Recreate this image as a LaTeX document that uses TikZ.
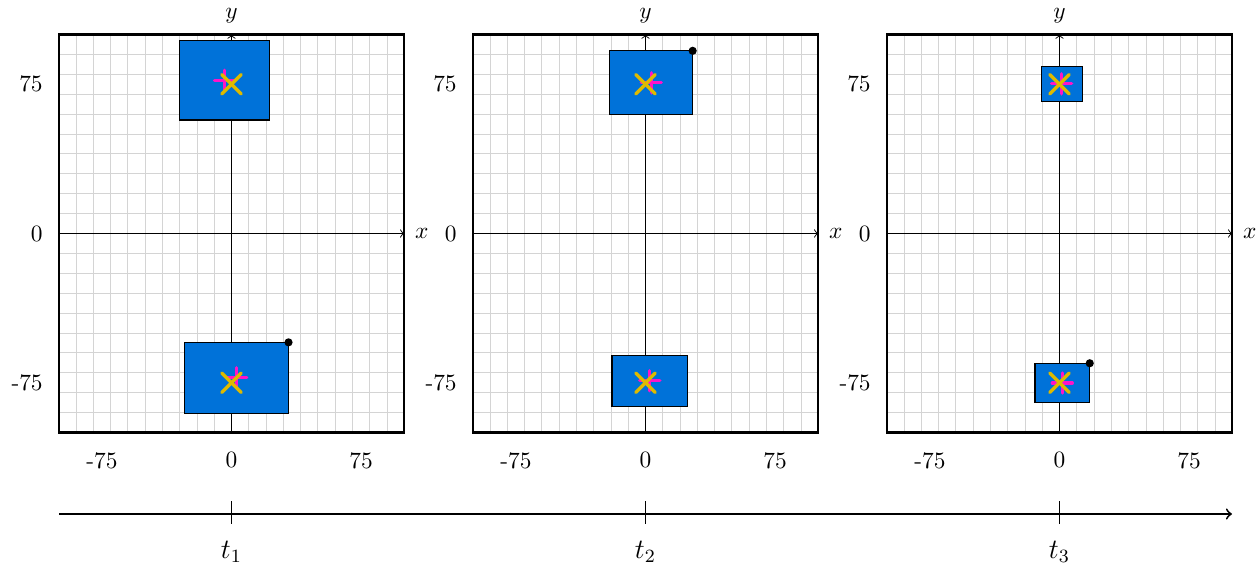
\documentclass[tikz,border=0pt]{standalone}
\usetikzlibrary{calc}
\definecolor{boxblue}{RGB}{0,114,217}
\definecolor{gridgray}{RGB}{212,212,212}
\definecolor{mkyellow}{RGB}{222,186,0}
\definecolor{mkmagenta}{RGB}{255,20,200}
\tikzset{
  gridline/.style={gridgray, line width=0.35pt},
  framebox/.style={draw=black, line width=0.9pt},
  axisline/.style={black, line width=0.4pt, ->},
  bbox/.style={fill=boxblue, draw=black, line width=0.5pt},
  tlabel/.style={inner sep=0pt, font=\normalsize},
  xmark/.style={mkyellow, line width=1.5pt, line cap=round},
  pmark/.style={mkmagenta, line width=1.4pt, line cap=round},
  cdot/.style={fill=black},
  timeline/.style={black, line width=0.8pt, ->},
}
\newcommand{\mypanel}[2]{%
  \begin{scope}[shift={(#1,233.5)}, xscale=1.728, yscale=-1.99]
    \foreach \g in {-90,-80,...,90} {
      \draw[gridline] (\g,-100) -- (\g,100);
      \draw[gridline] (-100,\g) -- (100,\g);
    }
    \draw[axisline] (-100,0) -- (100,0);
    \draw[axisline] (0,-100) -- (0,100);
    \draw[framebox] (-100,-100) rectangle (100,100);
    \node[tlabel, anchor=west] (xl#2) at (106,0) {$x$};
    \node[tlabel] (yl#2) at (0,109.5) {$y$};
    \node[tlabel] (xa#2) at (-75,-114) {-75};
    \node[tlabel] (xb#2) at (0,-114) {0};
    \node[tlabel] (xc#2) at (75,-114) {75};
    \node[tlabel, anchor=east] (ya#2) at (-109,75) {75};
    \node[tlabel, anchor=east] (yb#2) at (-109,0) {0};
    \node[tlabel, anchor=east] (yc#2) at (-109,-75) {-75};
  \end{scope}}
\newcommand{\mymarks}[2]{%
  \draw[pmark] ($(#1)+(-4.3pt,0)$) -- ($(#1)+(4.3pt,0)$);
  \draw[pmark] ($(#1)+(0,-4.3pt)$) -- ($(#1)+(0,4.3pt)$);
  \draw[xmark] ($(#2)+(-4.1pt,-4.1pt)$) -- ($(#2)+(4.1pt,4.1pt)$);
  \draw[xmark] ($(#2)+(-4.1pt,4.1pt)$) -- ($(#2)+(4.1pt,-4.1pt)$);}
\begin{document}
\begin{tikzpicture}[x=0.4275pt, y=-0.4275pt]
  \useasboundingbox (0,0) rectangle (1259,569);
  % panels
  \mypanel{231.5}{a}
  \mypanel{645.5}{b}
  \mypanel{1059.5}{c}
  % panel 1 boxes
  \begin{scope}[shift={(231.5,233.5)}, xscale=1.728, yscale=-1.99]
    \draw[bbox] (-30,57) rectangle (22,97);
    \coordinate (p1t) at (-4,77);
    \coordinate (x1t) at (0,75);
    \draw[bbox] (-27,-90.3) rectangle (33,-54.7);
    \coordinate (p1b) at (3,-72.5);
    \coordinate (x1b) at (0,-75);
    \coordinate (d1) at (33,-54.7);
  \end{scope}
  \begin{scope}[shift={(645.5,233.5)}, xscale=1.728, yscale=-1.99]
    \draw[bbox] (-20.6,59.6) rectangle (27.3,91.8);
    \coordinate (p2t) at (3.3,75.7);
    \coordinate (x2t) at (0,75);
    \coordinate (d2) at (27.3,91.8);
    \draw[bbox] (-19.4,-86.8) rectangle (24.4,-61.2);
    \coordinate (p2b) at (2.5,-74);
    \coordinate (x2b) at (0,-75);
  \end{scope}
  \begin{scope}[shift={(1059.5,233.5)}, xscale=1.728, yscale=-1.99]
    \draw[bbox] (-10.6,66.5) rectangle (13.1,83.9);
    \coordinate (p3t) at (1.2,75.2);
    \coordinate (x3t) at (0,75);
    \draw[bbox] (-14.2,-85.1) rectangle (17.5,-65.2);
    \coordinate (p3b) at (1.6,-75.1);
    \coordinate (x3b) at (0,-75);
    \coordinate (d3) at (17.5,-65.2);
  \end{scope}
  \mymarks{p1t}{x1t}
  \mymarks{p1b}{x1b}
  \mymarks{p2t}{x2t}
  \mymarks{p2b}{x2b}
  \mymarks{p3t}{x3t}
  \mymarks{p3b}{x3b}
  \fill[cdot] (d1) circle (1.75pt);
  \fill[cdot] (d2) circle (1.75pt);
  \fill[cdot] (d3) circle (1.75pt);
  % time axis
  \coordinate (ts) at (59,514);
  \coordinate (te) at (1232,514);
  \draw[timeline] (ts) -- (te);
  \foreach \tx/\tn in {231.5/1, 645.5/2, 1059.5/3} {
    \draw[black, line width=0.4pt] (\tx,501) -- (\tx,524);
    \node[inner sep=0pt, font=\large] (t\tn) at (\tx,552) {$t_{\tn}$};
  }
\end{tikzpicture}
\end{document}
